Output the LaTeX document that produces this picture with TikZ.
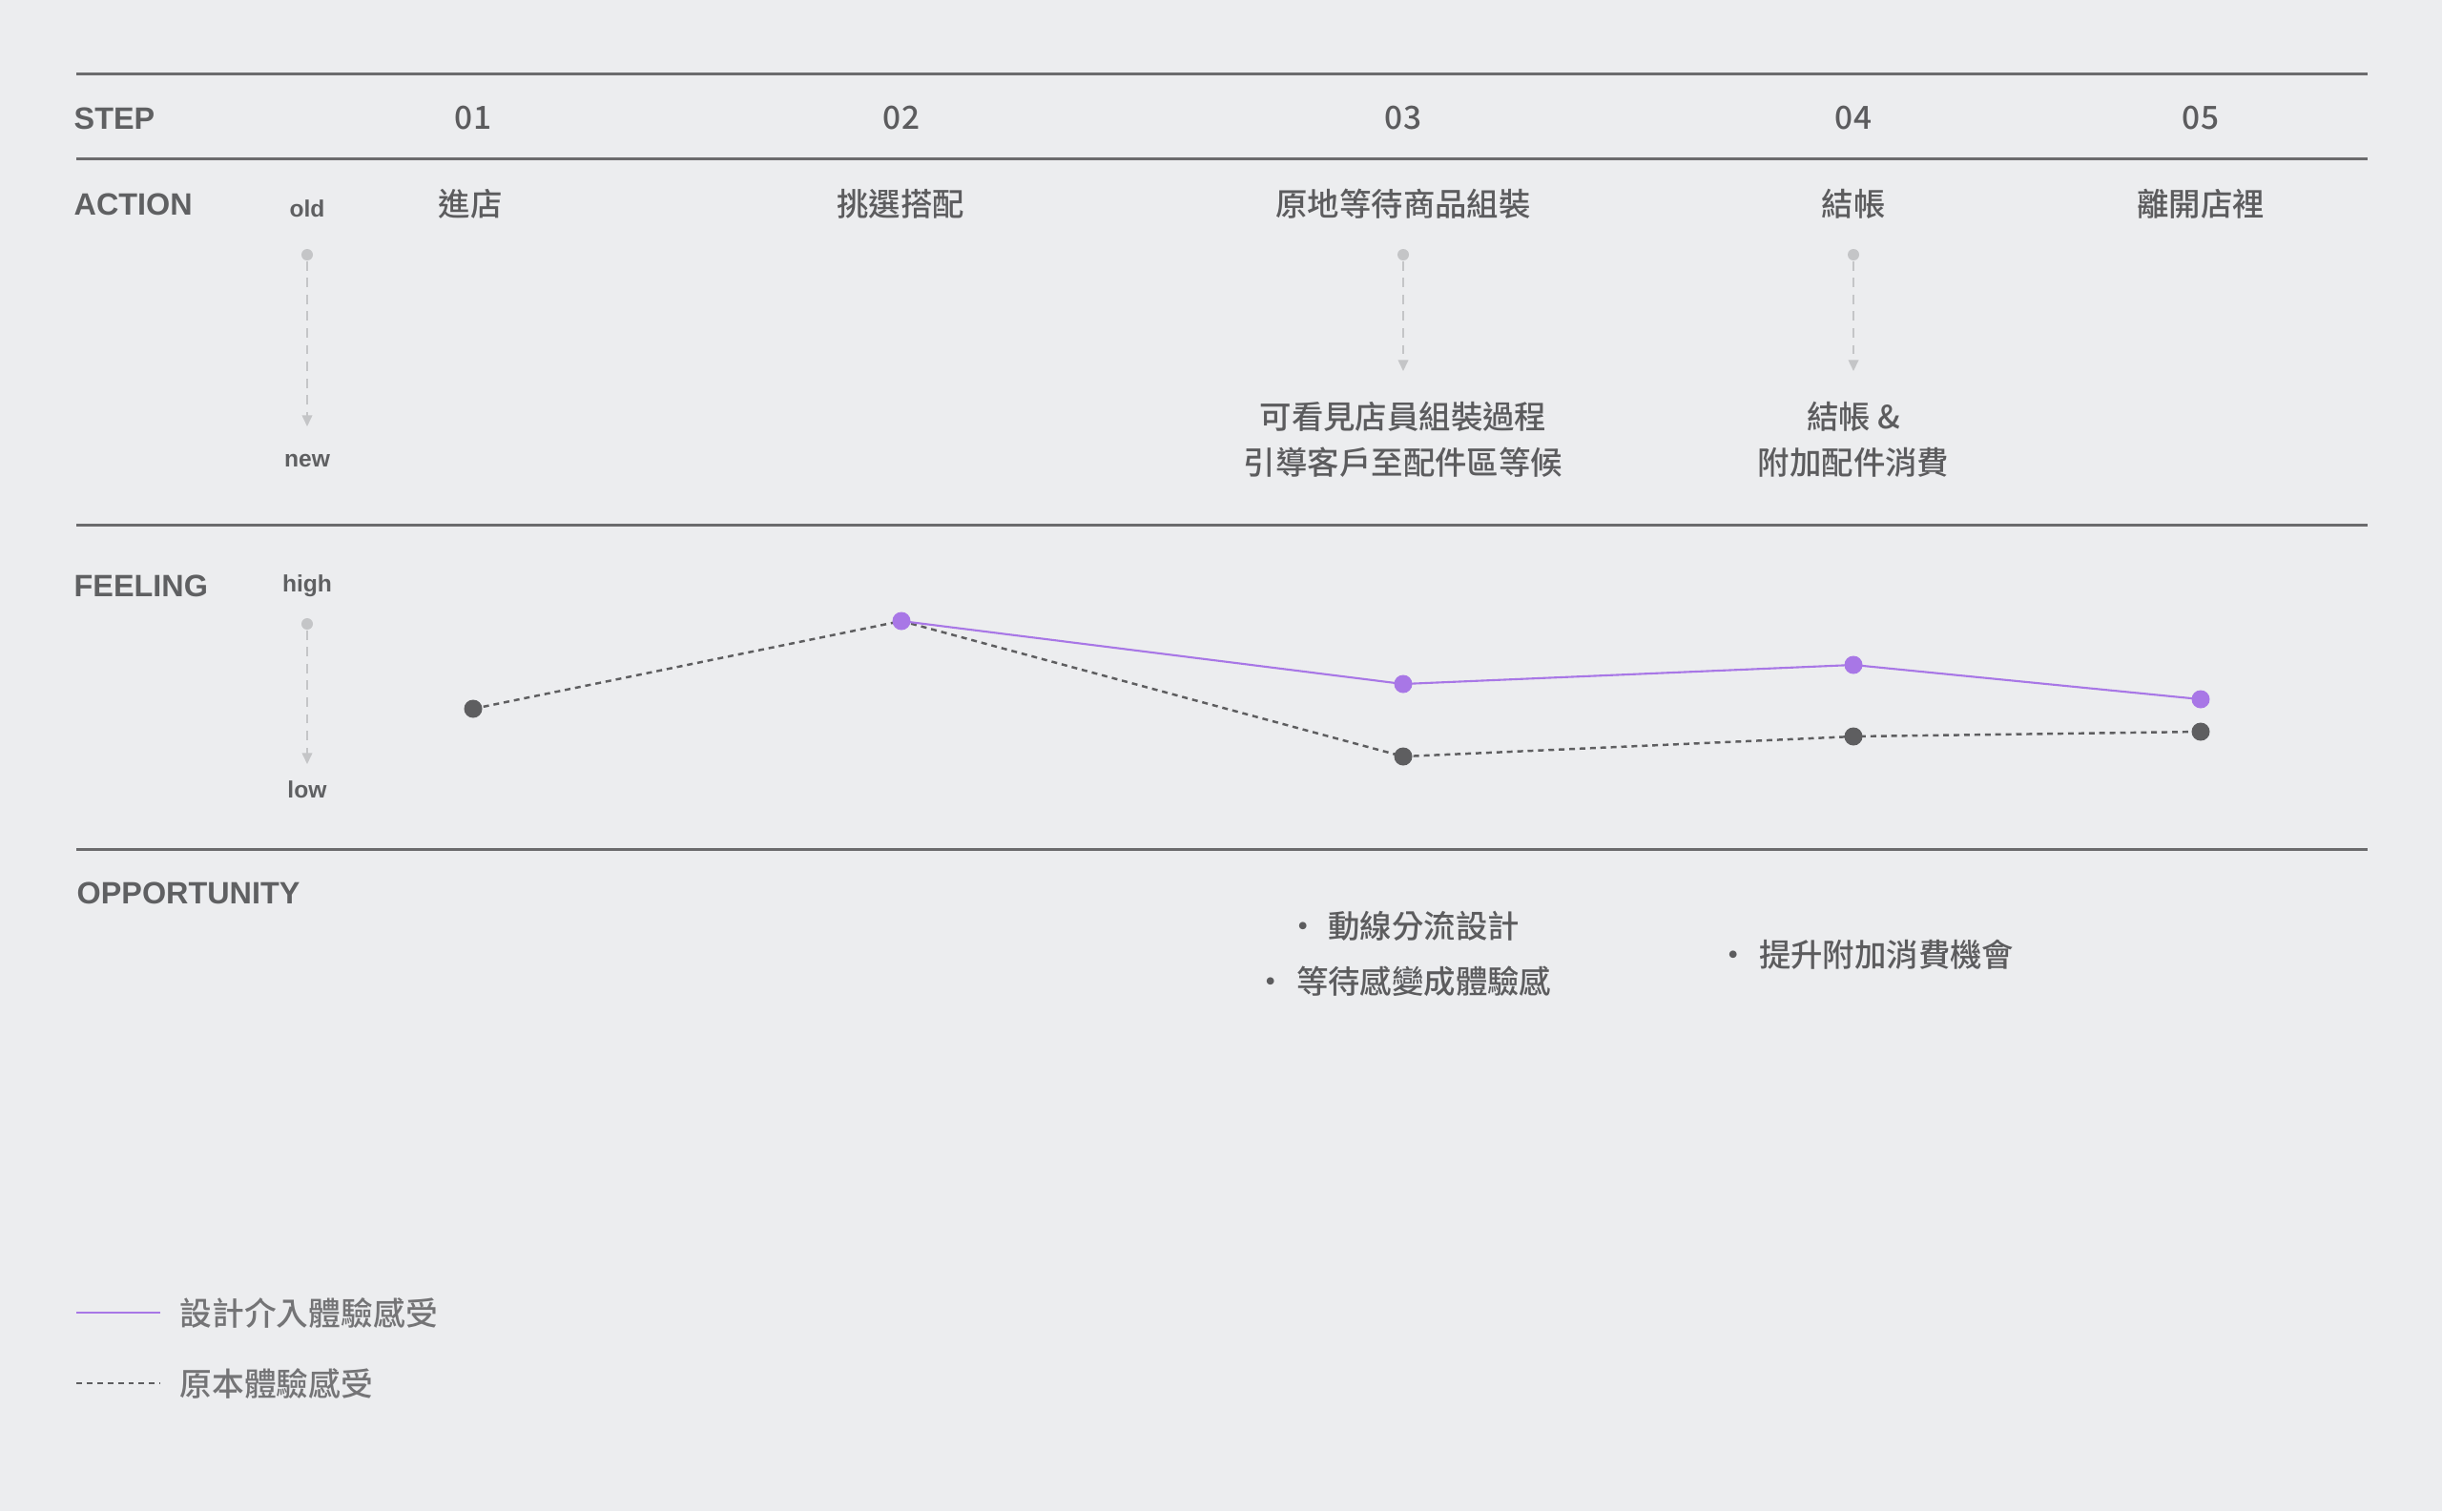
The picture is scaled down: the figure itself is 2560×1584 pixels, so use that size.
\documentclass[tikz,border=0pt]{standalone}
\usepackage{fontspec}
\setmainfont{Liberation Sans}
\newfontfamily\cjk{Noto Sans CJK TC Medium}
\usetikzlibrary{arrows.meta,positioning}

\definecolor{bgc}{HTML}{ECEDEF}
\definecolor{rulec}{HTML}{6B6B6D}
\definecolor{headc}{HTML}{5F6062}
\definecolor{txtc}{HTML}{5C5C5E}
\definecolor{legc}{HTML}{747476}
\definecolor{guidec}{HTML}{C4C5C7}
\definecolor{purp}{HTML}{A877E6}
\definecolor{oldc}{HTML}{5E5E60}

\begin{document}
\begin{tikzpicture}[x=0.01cm, y=-0.01cm,
    rowhead/.style={anchor=west, inner sep=0pt, text=headc, font=\bfseries\fontsize{9.2}{11}\selectfont},
    stepno/.style={inner sep=0pt, text=txtc, font=\cjk\fontsize{9.5}{11}\selectfont},
    act/.style={inner sep=0pt, align=center, text=txtc, font=\cjk\fontsize{9.5}{13.7}\selectfont},
    opp/.style={inner sep=0pt, align=center, text=txtc, font=\cjk\fontsize{9.5}{16.5}\selectfont},
    axislbl/.style={inner sep=0pt, text=headc, font=\bfseries\fontsize{7}{8}\selectfont},
    legtxt/.style={anchor=west, inner sep=0pt, text=legc, font=\cjk\fontsize{9.6}{12}\selectfont},
    rule/.style={draw=rulec, line width=0.85pt},
    guide/.style={draw=guidec, line width=0.5pt, dash pattern=on 2.8pt off 2.2pt, -{Triangle[width=3pt,length=3.3pt]}},
    gdot/.style={circle, fill=guidec, inner sep=0pt, minimum size=0.12cm},
    newline/.style={draw=purp, line width=0.6pt},
    oldline/.style={draw=oldc, line width=0.7pt, dash pattern=on 1.7pt off 1.4pt},
    newdot/.style={circle, fill=purp, inner sep=0pt, minimum size=0.19cm},
    olddot/.style={circle, fill=oldc, inner sep=0pt, minimum size=0.19cm},
]
% background
\fill[bgc] (0,0) rectangle (2560,1584);

% rules
\draw[rule] (80,77) -- (2482,77);
\draw[rule] (80,166) -- (2482,166);
\draw[rule] (80,550) -- (2482,550);
\draw[rule] (80,890) -- (2482,890);

% row headings
\node[rowhead] (hstep) at (77,124) {STEP};
\node[rowhead] (haction) at (77,214) {ACTION};
\node[rowhead] (hfeel) at (77,614) {FEELING};
\node[rowhead] (hopp) at (80,936) {OPPORTUNITY};

% steps
\node[stepno] (s1) at (496,124) {01};
\node[stepno] (s2) at (945,124) {02};
\node[stepno] (s3) at (1471,124) {03};
\node[stepno] (s4) at (1943,124) {04};
\node[stepno] (s5) at (2307,124) {05};

% actions
\node[act] (a1) at (493,214) {進店};
\node[act] (a2) at (944,214) {挑選搭配};
\node[act] (a3) at (1471,214) {原地等待商品組裝};
\node[act] (a4) at (1943,214) {結帳};
\node[act] (a5) at (2307,214) {離開店裡};

\node[act] (a3new) at (1471,461) {可看見店員組裝過程\\引導客戶至配件區等候};
\node[act] (a4new) at (1943,461) {結帳 \&\\附加配件消費};

% old -> new scale
\node[axislbl] (old) at (322,219) {old};
\node[axislbl] (new) at (322,483) {new};
\node[gdot] (g0) at (322,267) {};
\coordinate (g0e) at (322,447);
\draw[guide] (g0) -- (g0e);

\node[gdot] (g3) at (1471,267) {};
\coordinate (g3e) at (1471,389);
\draw[guide] (g3) -- (g3e);

\node[gdot] (g4) at (1943,267) {};
\coordinate (g4e) at (1943,389);
\draw[guide] (g4) -- (g4e);

% high -> low scale
\node[axislbl] (high) at (322,614) {high};
\node[axislbl] (low) at (322,828) {low};
\node[gdot] (g1) at (322,654) {};
\coordinate (g1e) at (322,801);
\draw[guide] (g1) -- (g1e);

% feeling curves
\coordinate (o1) at (496,743);
\coordinate (o2) at (945,651);
\coordinate (o3) at (1471,793);
\coordinate (o4) at (1943,772);
\coordinate (o5) at (2307,767);
\coordinate (n3) at (1471,717);
\coordinate (n4) at (1943,697);
\coordinate (n5) at (2307,733);

\draw[oldline] (o1) -- (o2) -- (o3) -- (o4) -- (o5);
\draw[newline] (o2) -- (n3) -- (n4) -- (n5);

\foreach \p in {o1,o3,o4,o5}
  \node[olddot] at (\p) {};
\foreach \p in {o2,n3,n4,n5}
  \node[newdot] at (\p) {};

% opportunities
\node[opp] (p3) at (1471,1000) {•\hspace{0.3em}動線分流設計\\•\hspace{0.3em}等待感變成體驗感};
\node[opp] (p4) at (1956,1001) {•\hspace{0.3em}提升附加消費機會};

% legend
\coordinate (l1a) at (80,1376);
\coordinate (l1b) at (168,1376);
\draw[newline] (l1a) -- (l1b);
\node[legtxt] (leg1) at (188,1376) {設計介入體驗感受};
\coordinate (l2a) at (80,1450);
\coordinate (l2b) at (168,1450);
\draw[oldline] (l2a) -- (l2b);
\node[legtxt] (leg2) at (188,1450) {原本體驗感受};
\end{tikzpicture}
\end{document}
